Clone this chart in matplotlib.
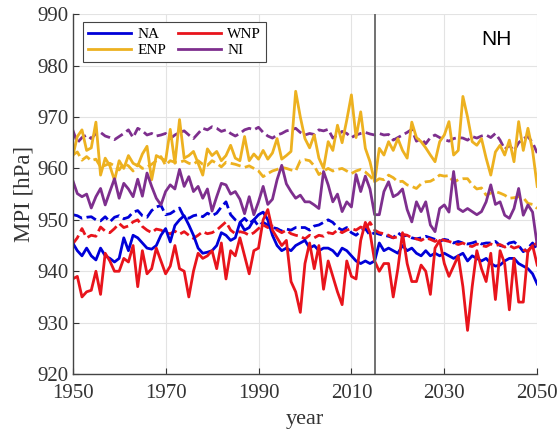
import numpy as np
import matplotlib
matplotlib.use("Agg")
import matplotlib.pyplot as plt

years = np.arange(1950, 2051)

# annual MPI, solid lines
na = [945.5, 944, 943, 944.5, 943, 942.2, 944.5, 943, 942.5, 941.8,
      942.5, 946.5, 944, 947, 946.5, 945.5, 944.5, 944.3, 945, 947,
      948.3, 945.7, 948.9, 950, 950.8, 949, 947, 944.5, 943.5, 943.7,
      944, 945, 947.5, 947, 946, 946.5, 949.5, 948, 948.5, 950,
      951, 951.5, 950, 947, 945, 944, 944.5, 944, 945, 945.5,
      946, 944.5, 945, 944, 944.5, 944.5, 944, 943, 944.5, 944,
      943, 942, 941.5, 942, 941.5, 942, 945.5, 944, 944.5, 944,
      943.5, 945, 944, 944.5, 943.5, 943, 944, 943, 943.5, 943,
      943.5, 943, 942.5, 943, 943.5, 942, 943, 942.5, 942, 942.5,
      941.5, 941, 941.2, 942, 942.5, 942.5, 941.5, 941, 940.5, 939.5,
      937.5]
wnp = [938.5, 939, 935, 936, 936.3, 940, 935.5, 943.5, 942, 940,
       940, 942.5, 941.8, 945, 937, 944, 939.5, 940.5, 944.5, 942,
       939.5, 941, 945, 940.5, 940, 935, 940, 943.5, 942.5, 943,
       944, 940.5, 945.5, 938.5, 944, 943, 946.5, 943, 939.5, 944,
       944.5, 950, 952, 948, 946.5, 945, 946, 938, 936, 932,
       941.5, 945.5, 940.5, 945, 936.5, 942, 939, 936, 933.5, 942,
       939, 938.5, 946, 949.5, 947.5, 942, 940, 941.5, 941.5, 935,
       940.5, 947.5, 941.5, 938, 938, 941.2, 940, 935.5, 944.5, 946,
       941.5, 939, 941, 943, 937, 928.5, 937, 944, 940.5, 938,
       943.5, 934.5, 944, 941.5, 932.5, 942.5, 934, 934, 944, 945,
       941.2]
enp = [962.3, 966.2, 967.5, 963.5, 964, 969, 958.7, 962, 960.5, 957.7,
       961.5, 960, 962.5, 961, 960.5, 962.8, 964.3, 957.8, 962.5, 962,
       961.5, 967.6, 961, 969.5, 962, 962.5, 963.3, 961, 958.7, 963.8,
       962.5, 963.3, 961.5, 962.5, 964.5, 962, 961.5, 966.2, 961.5, 962.8,
       961.8, 963.5, 961.8, 963, 965.8, 961.8, 962.5, 963.3, 975, 970,
       965.8, 964, 966.5, 962, 960, 965.2, 963.5, 968.4, 965, 969.4,
       974.3, 966, 971, 963.9, 961.3, 957.4, 963.9, 962.6, 965.2, 963.5,
       965.8, 963.5, 962, 969, 966, 965.2, 964, 962.6, 961.3, 965.2,
       966.5, 969.1, 962.6, 963.5, 974, 970, 965.2, 964.5, 965.8, 962,
       958.7, 963.2, 964.5, 962.6, 965.5, 961.3, 969.1, 963.5, 967.8, 963.5,
       956.5]
ni = [957.7, 955.1, 954.5, 955, 952.3, 954.5, 956.1, 952.9, 955.5, 958,
      954.2, 957.1, 956, 954.5, 957.9, 954.6, 959.1, 956.5, 954.2, 952.9,
      955.5, 956.8, 956, 959.8, 956.5, 958.4, 955.5, 956.5, 954.2, 956,
      951.7, 954.5, 957.1, 956.8, 955, 955.5, 954, 951.2, 954.5, 951,
      953.5, 956.5, 953, 954, 957.8, 960.6, 957, 955.5, 954.2, 954.8,
      953.5, 953.5, 952.9, 952.2, 959.4, 956.8, 953.5, 955, 951.6, 953.5,
      952.5, 958.8, 955.5, 958.5, 956, 951, 951, 955.5, 957.4, 954.5,
      955, 956, 952, 949.6, 953.5, 951.6, 953.5, 949, 947.7, 952.2,
      952.9, 951.5, 959.4, 952.2, 951.6, 952.2, 951.6, 951, 951.6, 953.5,
      956.8, 953, 953.5, 950.9, 950.3, 952.2, 956.1, 950.9, 952.9, 951.5,
      945]

# dashed lines
na_d = [951, 950.8, 950.3, 950.5, 950.6, 950, 949.8, 950.6, 949.6, 950.5,
        950.8, 950.2, 950.5, 951.5, 951.8, 950.8, 950.5, 951.8, 952.5, 952.8,
        951, 951.2, 951.8, 952.3, 950.5, 950.3, 950.8, 951, 950.6, 951.3,
        950.8, 951.3, 952.5, 953.5, 951, 950, 949.5, 950.3, 949.3, 950,
        948.8, 949.5, 949, 948.5, 948.3, 947.8, 948.2, 948, 948.5, 948.5,
        948.5, 948, 948.8, 949, 949.5, 950, 949.5, 948.5, 948, 948.5,
        947.5, 947, 947.8, 948.3, 947, 947.5, 947.2, 947, 946.8, 946.5,
        947.5, 946.8, 947, 946.5, 946.3, 946.5, 946.8, 946.5, 946.2, 945.8,
        946.2, 946, 945.5, 945.8, 945.5, 945.3, 945.5, 945.8, 945.3, 945.5,
        945.5, 945.8, 945, 944.8, 945.5, 945.7, 945, 943.8, 944.5, 945.5,
        944]
wnp_d = [945.3, 946.5, 948.3, 946.5, 947, 946.8, 948.6, 947.8, 947.5, 948.3,
         949.3, 948.5, 948.8, 949.6, 950, 948.7, 948, 947.5, 948.2, 948,
         947.5, 947.3, 947.8, 947.2, 947.7, 947, 946.4, 947, 947.7, 947.3,
         947.5, 948, 948.8, 949.6, 948, 947.3, 947.7, 947.5, 947, 947.5,
         948.3, 949, 948.5, 948.8, 948, 947.5, 948, 947.3, 947, 946.8,
         946.3, 947, 946.5, 947, 946.8, 947.5, 947.3, 948, 947.5, 948,
         948.3, 948, 948.6, 948.2, 949.5, 948, 947.5, 947.3, 947, 946.5,
         946.7, 947.2, 947, 946.5, 946.3, 946, 946.5, 946.2, 945.8, 946.3,
         946, 945.8, 945.5, 945.2, 945.5, 945, 944.8, 945.3, 945, 944.8,
         945.3, 945, 945.2, 944.7, 945, 944.5, 944.8, 944.2, 943.8, 945,
         945.5]
enp_d = [962.6, 963.2, 961.6, 962.3, 961.5, 961.8, 960.3, 960.6, 961, 960.5,
         959.7, 961, 960.5, 959.5, 960.8, 960, 960.3, 960.8, 961.5, 962.3,
         960.6, 961.5, 961.2, 961.2, 961.5, 961, 960.8, 961.5, 960.8, 960.6,
         961.5, 961, 960.3, 961.2, 961, 960.8, 960.5, 960.2, 960.5, 960,
         959.5, 958.4, 959, 959.5, 959.8, 960.2, 960, 959.7, 959.5, 961.5,
         961.7, 961.5, 960.5, 958.8, 959.5, 960, 959.5, 959.8, 960, 959.5,
         959, 959.5, 959.8, 959.3, 958.5, 957.4, 958, 957.8, 958.7, 958.2,
         957.4, 957.5, 956.8, 956.5, 956.1, 957, 957.4, 957.5, 958, 958.7,
         958.5, 958.6, 957.3, 957.8, 958, 958, 956.8, 956, 956.2, 954.8,
         955.2, 955.5, 955.2, 954.8, 954.2, 954.3, 954.5, 954.3, 953.2, 953,
         952.2]
ni_d = [967.5, 965, 966, 966.5, 965.8, 966.8, 967, 966.3, 966, 965.6,
        966.2, 966.8, 967.5, 966, 967.8, 967.3, 966.5, 966.8, 966.3, 966.5,
        966.8, 965.8, 966.5, 967, 967.3, 966.5, 965.8, 966.8, 967.8, 967.5,
        968.1, 967.8, 967.2, 967.5, 966.8, 966.3, 966.8, 967.5, 967.8, 967.5,
        968, 967, 966.3, 965.9, 966.5, 966.8, 967.3, 967.5, 967.8, 967,
        966.5, 966.8, 966.6, 967.5, 967.3, 967.6, 965.9, 966.5, 967.2, 966.8,
        966, 966.5, 966.8, 967, 966.7, 966.5, 966.8, 966.5, 966.6, 965.5,
        966, 966.5, 967, 967.6, 965.3, 965.8, 964.8, 966, 966.5, 966,
        965.6, 965.3, 965.8, 966, 965.9, 965.5, 966.2, 965.9, 966.3, 966.5,
        966, 966.8, 965.5, 963.7, 964.5, 963.4, 965, 965.8, 966.2, 965,
        963]

c_na = "#0000d8"
c_wnp = "#e8141c"
c_enp = "#edb120"
c_ni = "#7e2f8e"

fig = plt.figure(figsize=(5.57, 4.29), dpi=100)
ax = fig.add_axes([0.1305, 0.128, 0.834, 0.839])

lw = 2.0
ax.plot(years, ni_d, "--", color=c_ni, lw=lw)
ax.plot(years, enp_d, "--", color=c_enp, lw=lw)
ax.plot(years, na_d, "--", color=c_na, lw=lw)
ax.plot(years, wnp_d, "--", color=c_wnp, lw=lw)
l_enp, = ax.plot(years, enp, color=c_enp, lw=lw, label="ENP")
l_ni, = ax.plot(years, ni, color=c_ni, lw=lw, label="NI")
l_na, = ax.plot(years, na, color=c_na, lw=lw, label="NA")
l_wnp, = ax.plot(years, wnp, color=c_wnp, lw=lw, label="WNP")

ax.axvline(2015, color="#666666", lw=1.3)

ax.set_xlim(1950, 2050)
ax.set_ylim(920, 990)
ax.set_xticks([1950, 1970, 1990, 2010, 2030, 2050])
ax.set_yticks(np.arange(920, 991, 10))
ax.grid(True, color="#e3e3e3", lw=0.8)
ax.set_axisbelow(True)
for s in ["top", "right"]:
    ax.spines[s].set_visible(False)
for s in ["left", "bottom"]:
    ax.spines[s].set_color("#444444")
    ax.spines[s].set_linewidth(1.0)

serif = "Liberation Serif"
ax.tick_params(direction="in", length=4, labelsize=15, colors="#333333")
ax.tick_params(axis="x", pad=7)
ax.tick_params(axis="y", pad=3)
for lab in ax.get_xticklabels() + ax.get_yticklabels():
    lab.set_fontfamily(serif)
ax.set_xlabel("year", fontsize=16, fontfamily=serif, color="#333333", labelpad=5)
ax.set_ylabel("MPI [hPa]", fontsize=16.5, fontfamily=serif, color="#333333", labelpad=2)

ax.text(0.945, 0.93, "NH", transform=ax.transAxes, ha="right", va="center",
        fontsize=15, fontfamily="Liberation Sans")

leg = ax.legend(handles=[l_na, l_enp, l_wnp, l_ni], ncol=2, loc="upper left",
                bbox_to_anchor=(0.022, 0.978), borderaxespad=0, fancybox=False,
                framealpha=1, edgecolor="#444444",
                prop={"family": serif, "size": 11},
                handlelength=2.8, handletextpad=0.4, columnspacing=0.8,
                labelspacing=0.15, borderpad=0.35)
leg.get_frame().set_linewidth(0.8)

fig.savefig("out.png", dpi=100)
